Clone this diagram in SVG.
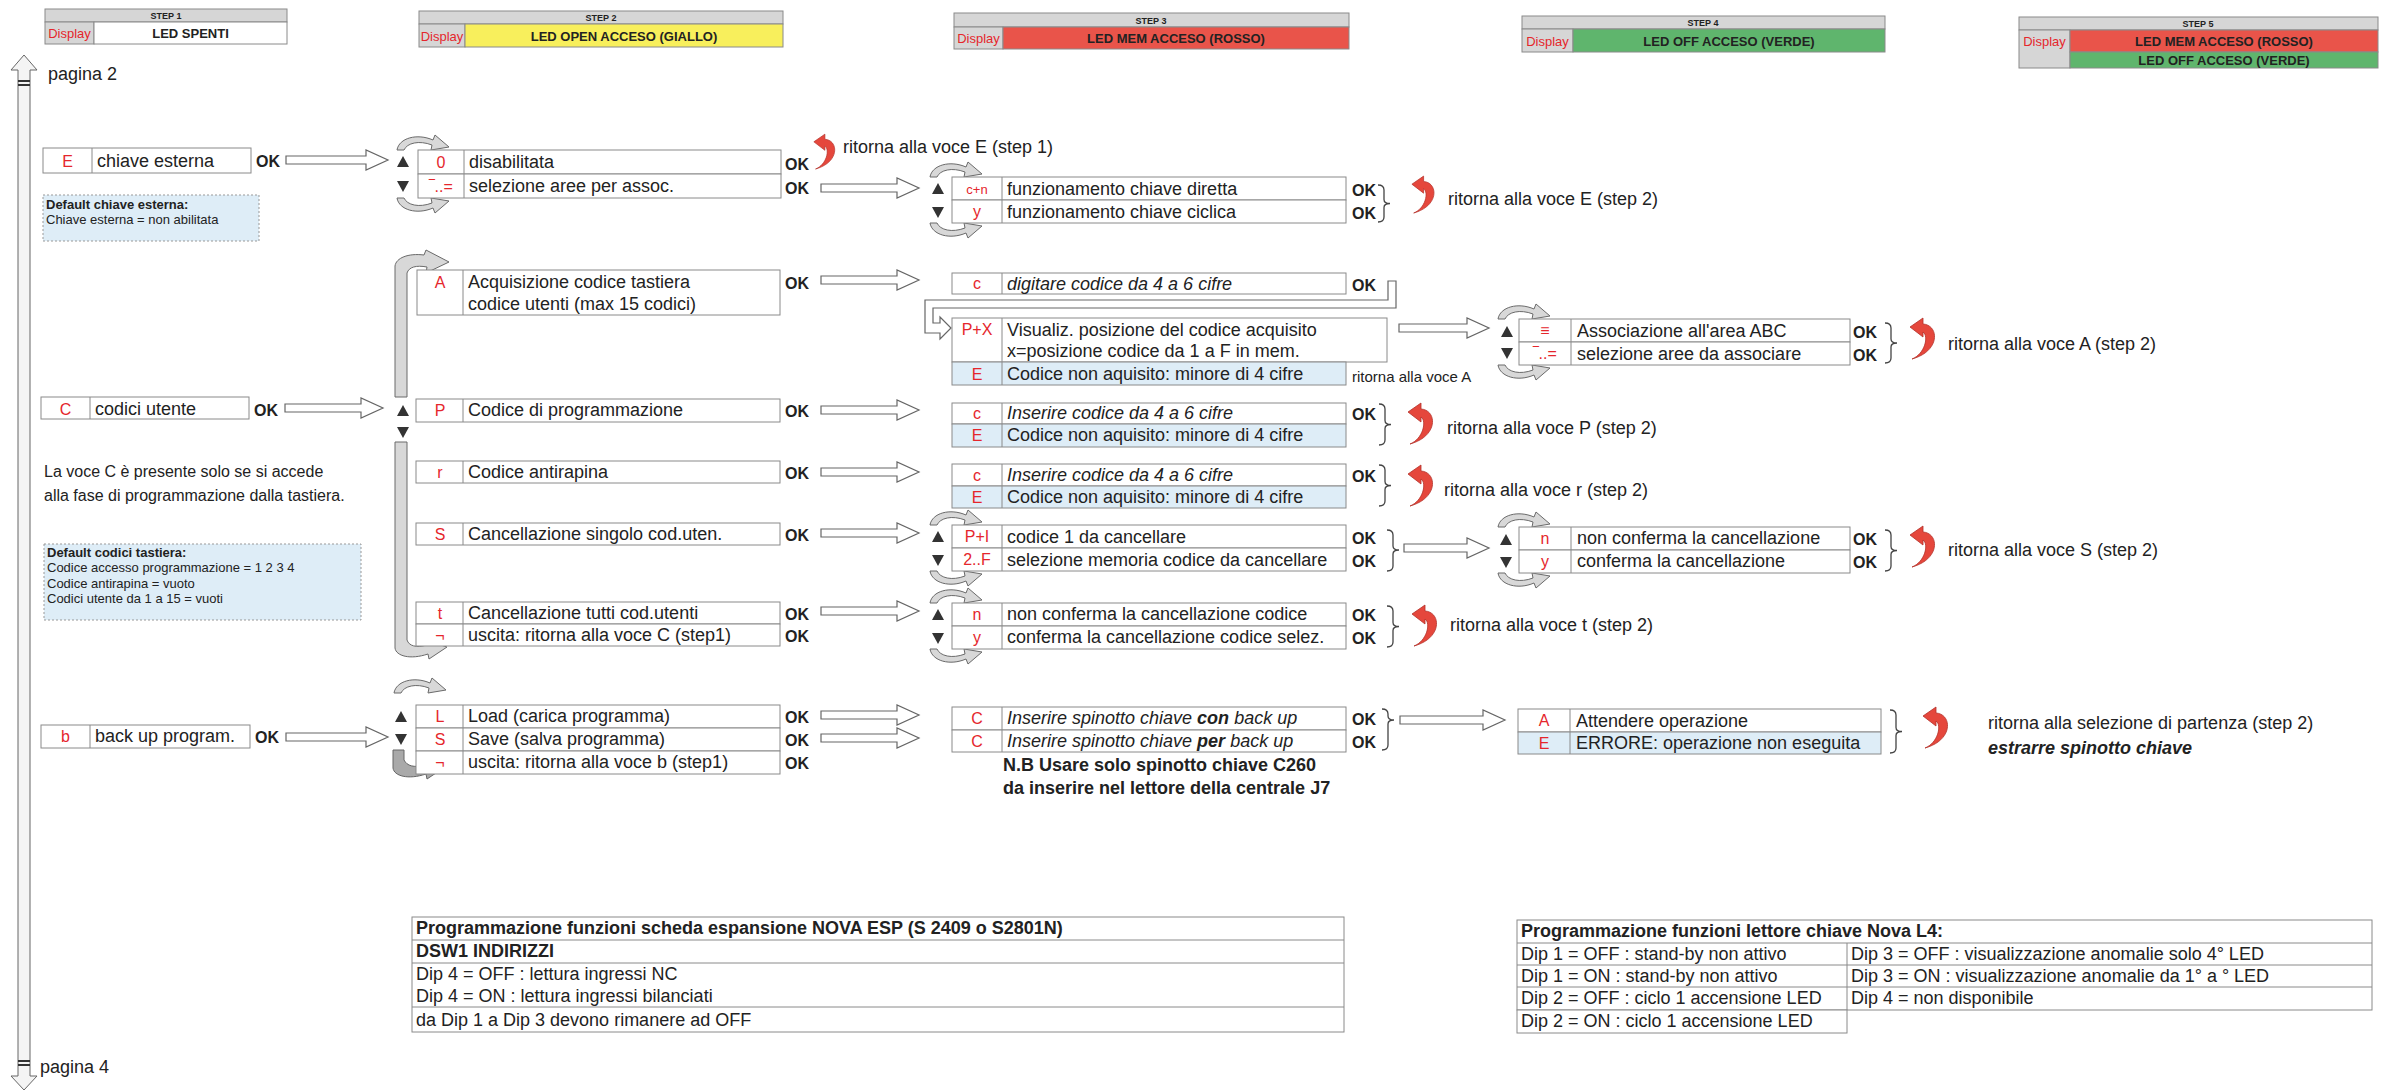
<svg xmlns="http://www.w3.org/2000/svg" xmlns:xlink="http://www.w3.org/1999/xlink" width="2383" height="1091" viewBox="0 0 2383 1091">
<style>
text{font-family:'Liberation Sans',Arial,sans-serif;fill:#222}
.t{font-size:18px}
.ti{font-size:18px;font-style:italic}
.ok{font-size:16px;font-weight:bold}
.cd{font-size:16px;fill:#e5262c;text-anchor:middle}
.sm{font-size:13px}
.smb{font-size:13px;font-weight:bold}
.hs{font-size:9px;font-weight:bold;text-anchor:middle}
.hd{font-size:13px;fill:#e5262c;text-anchor:middle}
.hl{font-size:13px;font-weight:bold;text-anchor:middle}
.box{fill:#fff;stroke:#8a8a8a;stroke-width:1}
.blue{fill:#deedf7;stroke:#8a8a8a;stroke-width:1}
.dv{stroke:#8a8a8a;stroke-width:1}
.hg{fill:#d6d6d6;stroke:#8a8a8a;stroke-width:1}
.arr{fill:#fff;stroke:#666;stroke-width:1.2}
.arc{fill:#d8d8d8;stroke:#6a6a6a;stroke-width:1}
.br{fill:none;stroke:#444;stroke-width:1.3}
.red{fill:#e5473c;stroke:#b3312a;stroke-width:.8}
.tri{fill:#333}
.note{fill:#deedf7;stroke:#999;stroke-width:1;stroke-dasharray:2 2}
</style>
<defs>
<path id="arcTop" class="arc" d="M0 15 C2 3 20 -2 36 5 L38 0 L52 12 L34 15 L35 10 C22 5 10 8 7 15 Z"/>
<path id="up" class="tri" d="M-6 5 L0 -6 L6 5 Z"/>
<path id="dn" class="tri" d="M-6 -5 L0 6 L6 -5 Z"/>
<path id="ra" class="red" d="M3 40 C16 35 20 17 14 13 L14 18 L1 8 L14 -1 L14 5 C30 6 32 32 3 40 Z"/>
</defs>

<g id="headers">
<g id="step1">
<rect class="hg" x="45" y="9" width="242" height="13"/>
<rect class="hg" x="45" y="22" width="49" height="22"/>
<rect class="box" x="94" y="22" width="193" height="22"/>
<text class="hs" x="166" y="19">STEP 1</text>
<text class="hd" x="69.5" y="38">Display</text>
<text class="hl" x="190.5" y="38">LED SPENTI</text>
</g>
<g id="step2">
<rect class="hg" x="419" y="11" width="364" height="13"/>
<rect class="hg" x="419" y="24" width="46" height="23"/>
<rect x="465" y="24" width="318" height="23" fill="#f8ef5c" stroke="#8a8a8a"/>
<text class="hs" x="601" y="21">STEP 2</text>
<text class="hd" x="442" y="41">Display</text>
<text class="hl" x="624" y="41">LED OPEN ACCESO (GIALLO)</text>
</g>
<g id="step3">
<rect class="hg" x="954" y="13" width="395" height="14"/>
<rect class="hg" x="954" y="27" width="49" height="22"/>
<rect x="1003" y="27" width="346" height="22" fill="#e9544a" stroke="#8a8a8a"/>
<text class="hs" x="1151" y="24">STEP 3</text>
<text class="hd" x="978.5" y="43">Display</text>
<text class="hl" x="1176" y="43">LED MEM ACCESO (ROSSO)</text>
</g>
<g id="step4">
<rect class="hg" x="1522" y="16" width="363" height="13"/>
<rect class="hg" x="1522" y="29" width="51" height="23"/>
<rect x="1573" y="29" width="312" height="23" fill="#5fb56d" stroke="#8a8a8a"/>
<text class="hs" x="1703" y="26">STEP 4</text>
<text class="hd" x="1547.5" y="46">Display</text>
<text class="hl" x="1729" y="46">LED OFF ACCESO (VERDE)</text>
</g>
<g id="step5">
<rect class="hg" x="2019" y="17" width="359" height="13"/>
<rect class="hg" x="2019" y="30" width="51" height="38"/>
<rect x="2070" y="30" width="308" height="22" fill="#e9544a" stroke="#8a8a8a"/>
<rect x="2070" y="52" width="308" height="16" fill="#5fb56d" stroke="#8a8a8a"/>
<text class="hs" x="2198" y="27">STEP 5</text>
<text class="hd" x="2044.5" y="46">Display</text>
<text class="hl" x="2224" y="46">LED MEM ACCESO (ROSSO)</text>
<text class="hl" x="2224" y="65">LED OFF ACCESO (VERDE)</text>
</g>
</g>

<g id="pagebar">
<path d="M18 70 L11 70 L24 55 L37 70 L30 70 L30 1076 L37 1076 L24 1090 L11 1076 L18 1076 Z" fill="#f4f4f4" stroke="#666" stroke-width="1"/>
<rect x="18" y="80" width="12" height="2" fill="#333"/>
<rect x="18" y="84" width="12" height="2" fill="#333"/>
<rect x="18" y="1060" width="12" height="2" fill="#333"/>
<rect x="18" y="1064" width="12" height="2" fill="#333"/>
<text class="t" x="48" y="80">pagina 2</text>
<text class="t" x="40" y="1073">pagina 4</text>
</g>

<g id="connectors">
<polygon class="arr" points="286,156 366,156 366,150 388,160 366,170 366,164 286,164"/>
<polygon class="arr" points="285,404 361,404 361,398 383,408 361,418 361,412 285,412"/>
<polygon class="arr" points="286,733 366,733 366,727 388,737 366,747 366,741 286,741"/>
<polygon class="arr" points="821,184 897,184 897,178 919,188 897,198 897,192 821,192"/>
<polygon class="arr" points="821,276 897,276 897,270 919,280 897,290 897,284 821,284"/>
<polygon class="arr" points="821,406 897,406 897,400 919,410 897,420 897,414 821,414"/>
<polygon class="arr" points="821,468 897,468 897,462 919,472 897,482 897,476 821,476"/>
<polygon class="arr" points="821,529 897,529 897,523 919,533 897,543 897,537 821,537"/>
<polygon class="arr" points="821,607 897,607 897,601 919,611 897,621 897,615 821,615"/>
<polygon class="arr" points="821,711 897,711 897,705 919,715 897,725 897,719 821,719"/>
<polygon class="arr" points="821,734 897,734 897,728 919,738 897,748 897,742 821,742"/>
<polygon class="arr" points="1399,324 1467,324 1467,318 1489,328 1467,338 1467,332 1399,332"/>
<polygon class="arr" points="1404,544 1467,544 1467,538 1489,548 1467,558 1467,552 1404,552"/>
<polygon class="arr" points="1400,716 1483,716 1483,710 1505,720 1483,730 1483,724 1400,724"/>
<polygon class="arr" points="1388,281 1396,281 1396,308 933,308 933,323 940,323 940,317 951,328 940,339 940,333 925,333 925,300 1388,300"/>
<path class="arc" d="M395 397 L395 266 C396 258 408 253 424 255 L426 250 L449 262 L426 273 L427 267 C416 265 409 267 407 273 L407 397 Z"/>
<path class="arc" d="M395 442 L395 648 C396 656 410 660 428 654 L429 659 L447 647 L425 640 L427 645 C416 648 409 646 407 640 L407 442 Z"/>
<path d="M393 750 L393 768 C394 776 408 780 426 774 L427 779 L445 767 L423 760 L425 765 C414 768 407 766 404 760 L404 750 Z" fill="#a9a9a9" stroke="#666" stroke-width="1"/>
<use xlink:href="#arcTop" transform="translate(397,135)"/>
<use xlink:href="#arcTop" transform="translate(397,213) scale(1,-1)"/>
<use xlink:href="#arcTop" transform="translate(394,678)"/>
<use xlink:href="#arcTop" transform="translate(930,162)"/>
<use xlink:href="#arcTop" transform="translate(930,238) scale(1,-1)"/>
<use xlink:href="#arcTop" transform="translate(930,510)"/>
<use xlink:href="#arcTop" transform="translate(930,586) scale(1,-1)"/>
<use xlink:href="#arcTop" transform="translate(930,588)"/>
<use xlink:href="#arcTop" transform="translate(930,664) scale(1,-1)"/>
<use xlink:href="#arcTop" transform="translate(1498,304)"/>
<use xlink:href="#arcTop" transform="translate(1498,380) scale(1,-1)"/>
<use xlink:href="#arcTop" transform="translate(1498,512)"/>
<use xlink:href="#arcTop" transform="translate(1498,588) scale(1,-1)"/>
<path class="br" d="M1378 185 Q1384 185 1384 190 L1384 199.5 Q1384 203.5 1390 203.5 Q1384 203.5 1384 207.5 L1384 217 Q1384 222 1378 222"/>
<path class="br" d="M1379 404 Q1385 404 1385 409 L1385 420.5 Q1385 424.5 1391 424.5 Q1385 424.5 1385 428.5 L1385 440 Q1385 445 1379 445"/>
<path class="br" d="M1379 465 Q1385 465 1385 470 L1385 481.5 Q1385 485.5 1391 485.5 Q1385 485.5 1385 489.5 L1385 501 Q1385 506 1379 506"/>
<path class="br" d="M1387 530 Q1393 530 1393 535 L1393 546 Q1393 550 1399 550 Q1393 550 1393 554 L1393 566 Q1393 571 1387 571"/>
<path class="br" d="M1387 606 Q1393 606 1393 611 L1393 622.5 Q1393 626.5 1399 626.5 Q1393 626.5 1393 630.5 L1393 642 Q1393 647 1387 647"/>
<path class="br" d="M1382 709 Q1388 709 1388 714 L1388 716 Q1388 720 1394 720 Q1388 720 1388 724 L1388 745 Q1388 750 1382 750"/>
<path class="br" d="M1885 323 Q1891 323 1891 328 L1891 339 Q1891 343 1897 343 Q1891 343 1891 347 L1891 358 Q1891 363 1885 363"/>
<path class="br" d="M1885 530 Q1891 530 1891 535 L1891 546.5 Q1891 550.5 1897 550.5 Q1891 550.5 1891 554.5 L1891 566 Q1891 571 1885 571"/>
<path class="br" d="M1890 710 Q1896 710 1896 715 L1896 727.5 Q1896 731.5 1902 731.5 Q1896 731.5 1896 735.5 L1896 748 Q1896 753 1890 753"/>
<use xlink:href="#ra" transform="translate(813,135) scale(0.85)"/>
<use xlink:href="#ra" transform="translate(1411,177) scale(0.9)"/>
<use xlink:href="#ra" transform="translate(1407,404)"/>
<use xlink:href="#ra" transform="translate(1407,466)"/>
<use xlink:href="#ra" transform="translate(1411,606)"/>
<use xlink:href="#ra" transform="translate(1909,319)"/>
<use xlink:href="#ra" transform="translate(1909,527)"/>
<use xlink:href="#ra" transform="translate(1922,708)"/>
</g>

<g id="n-E">
<rect class="box" x="43" y="148" width="208" height="25"/>
<line class="dv" x1="92" y1="148" x2="92" y2="173"/>
<text class="cd" x="67.5" y="167">E</text>
<text class="t" x="97" y="167">chiave esterna</text>
<text class="ok" x="256" y="167">OK</text>
</g>
<g id="n-default-chiave">
<rect class="note" x="43" y="195" width="216" height="46"/>
<text class="smb" x="46" y="209">Default chiave esterna:</text>
<text class="sm" x="46" y="224">Chiave esterna = non abilitata</text>
</g>
<g id="n-C">
<rect class="box" x="41" y="397" width="208" height="22"/>
<line class="dv" x1="90" y1="397" x2="90" y2="419"/>
<text class="cd" x="65.5" y="415">C</text>
<text class="t" x="95" y="415">codici utente</text>
<text class="ok" x="254" y="416">OK</text>
</g>
<g id="n-note-C">
<text x="44" y="477" style="font-size:16px">La voce C è presente solo se si accede</text>
<text x="44" y="501" style="font-size:16px">alla fase di programmazione dalla tastiera.</text>
</g>
<g id="n-default-codici">
<rect class="note" x="44" y="544" width="317" height="76"/>
<text class="smb" x="47" y="557">Default codici tastiera:</text>
<text class="sm" x="47" y="572">Codice accesso programmazione = 1 2 3 4</text>
<text class="sm" x="47" y="588">Codice antirapina = vuoto</text>
<text class="sm" x="47" y="603">Codici utente da 1 a 15 = vuoti</text>
</g>
<g id="n-b">
<rect class="box" x="41" y="725" width="209" height="23"/>
<line class="dv" x1="90" y1="725" x2="90" y2="748"/>
<text class="cd" x="65.5" y="742">b</text>
<text class="t" x="95" y="742">back up program.</text>
<text class="ok" x="255" y="743">OK</text>
</g>

<g id="n-s2-E">
<use xlink:href="#up" x="403" y="162"/>
<use xlink:href="#dn" x="403" y="186"/>
<rect class="box" x="418" y="150" width="363" height="24"/>
<rect class="box" x="418" y="174" width="363" height="24"/>
<line class="dv" x1="464" y1="150" x2="464" y2="198"/>
<text class="cd" x="441" y="168">0</text>
<text class="cd" x="441" y="192">‾..=</text>
<text class="t" x="469" y="168">disabilitata</text>
<text class="t" x="469" y="192">selezione aree per assoc.</text>
<text class="ok" x="785" y="170">OK</text>
<text class="ok" x="785" y="194">OK</text>
<text class="t" x="843" y="153">ritorna alla voce E (step 1)</text>
</g>
<g id="n-s2-A">
<rect class="box" x="417" y="270" width="363" height="45"/>
<line class="dv" x1="463" y1="270" x2="463" y2="315"/>
<text class="cd" x="440" y="288">A</text>
<text class="t" x="468" y="288">Acquisizione codice tastiera</text>
<text class="t" x="468" y="310">codice utenti (max 15 codici)</text>
<text class="ok" x="785" y="289">OK</text>
</g>
<g id="n-s2-P">
<use xlink:href="#up" x="403" y="411"/>
<use xlink:href="#dn" x="403" y="432"/>
<rect class="box" x="416" y="399" width="364" height="23"/>
<line class="dv" x1="463" y1="399" x2="463" y2="422"/>
<text class="cd" x="440" y="416">P</text>
<text class="t" x="468" y="416">Codice di programmazione</text>
<text class="ok" x="785" y="417">OK</text>
</g>
<g id="n-s2-r">
<rect class="box" x="416" y="461" width="364" height="22"/>
<line class="dv" x1="463" y1="461" x2="463" y2="483"/>
<text class="cd" x="440" y="478">r</text>
<text class="t" x="468" y="478">Codice antirapina</text>
<text class="ok" x="785" y="479">OK</text>
</g>
<g id="n-s2-S">
<rect class="box" x="416" y="523" width="364" height="22"/>
<line class="dv" x1="463" y1="523" x2="463" y2="545"/>
<text class="cd" x="440" y="540">S</text>
<text class="t" x="468" y="540">Cancellazione singolo cod.uten.</text>
<text class="ok" x="785" y="541">OK</text>
</g>
<g id="n-s2-t">
<rect class="box" x="416" y="602" width="364" height="22"/>
<rect class="box" x="416" y="624" width="364" height="22"/>
<line class="dv" x1="463" y1="602" x2="463" y2="646"/>
<text class="cd" x="440" y="619">t</text>
<text class="cd" x="440" y="641">¬</text>
<text class="t" x="468" y="619">Cancellazione tutti cod.utenti</text>
<text class="t" x="468" y="641">uscita: ritorna alla voce C (step1)</text>
<text class="ok" x="785" y="620">OK</text>
<text class="ok" x="785" y="642">OK</text>
</g>
<g id="n-s2-L">
<use xlink:href="#up" x="401" y="717"/>
<use xlink:href="#dn" x="401" y="739"/>
<rect class="box" x="416" y="705" width="364" height="23"/>
<rect class="box" x="416" y="728" width="364" height="23"/>
<rect class="box" x="416" y="751" width="364" height="23"/>
<line class="dv" x1="463" y1="705" x2="463" y2="774"/>
<text class="cd" x="440" y="722">L</text>
<text class="cd" x="440" y="745">S</text>
<text class="cd" x="440" y="768">¬</text>
<text class="t" x="468" y="722">Load (carica programma)</text>
<text class="t" x="468" y="745">Save (salva programma)</text>
<text class="t" x="468" y="768">uscita: ritorna alla voce b (step1)</text>
<text class="ok" x="785" y="723">OK</text>
<text class="ok" x="785" y="746">OK</text>
<text class="ok" x="785" y="769">OK</text>
</g>

<g id="n-s3-cn">
<use xlink:href="#up" x="938" y="189"/>
<use xlink:href="#dn" x="938" y="212"/>
<rect class="box" x="952" y="177" width="394" height="23"/>
<rect class="box" x="952" y="200" width="394" height="23"/>
<line class="dv" x1="1002" y1="177" x2="1002" y2="223"/>
<text class="cd" x="977" y="194" style="font-size:13px">c+n</text>
<text class="cd" x="977" y="217">y</text>
<text class="t" x="1007" y="195">funzionamento chiave diretta</text>
<text class="t" x="1007" y="218">funzionamento chiave ciclica</text>
<text class="ok" x="1352" y="196">OK</text>
<text class="ok" x="1352" y="219">OK</text>
<text class="t" x="1448" y="205">ritorna alla voce E (step 2)</text>
</g>
<g id="n-s3-c">
<rect class="box" x="952" y="273" width="394" height="21"/>
<line class="dv" x1="1002" y1="273" x2="1002" y2="294"/>
<text class="cd" x="977" y="289">c</text>
<text class="ti" x="1007" y="290">digitare codice da 4 a 6 cifre</text>
<text class="ok" x="1352" y="291">OK</text>
</g>
<g id="n-s3-PX">
<rect class="box" x="952" y="318" width="435" height="44"/>
<rect class="blue" x="952" y="362" width="394" height="23"/>
<line class="dv" x1="1002" y1="318" x2="1002" y2="385"/>
<text class="cd" x="977" y="335">P+X</text>
<text class="cd" x="977" y="380">E</text>
<text class="t" x="1007" y="336">Visualiz. posizione del codice acquisito</text>
<text class="t" x="1007" y="357">x=posizione codice da 1 a F in mem.</text>
<text class="t" x="1007" y="380">Codice non aquisito: minore di 4 cifre</text>
<text x="1352" y="382" style="font-size:15px">ritorna alla voce A</text>
</g>
<g id="n-s3-P">
<rect class="box" x="952" y="403" width="394" height="21"/>
<rect class="blue" x="952" y="424" width="394" height="23"/>
<line class="dv" x1="1002" y1="403" x2="1002" y2="447"/>
<text class="cd" x="977" y="419">c</text>
<text class="cd" x="977" y="441">E</text>
<text class="ti" x="1007" y="419">Inserire codice da 4 a 6 cifre</text>
<text class="t" x="1007" y="441">Codice non aquisito: minore di 4 cifre</text>
<text class="ok" x="1352" y="420">OK</text>
<text class="t" x="1447" y="434">ritorna alla voce P (step 2)</text>
</g>
<g id="n-s3-r">
<rect class="box" x="952" y="464" width="394" height="22"/>
<rect class="blue" x="952" y="486" width="394" height="22"/>
<line class="dv" x1="1002" y1="464" x2="1002" y2="508"/>
<text class="cd" x="977" y="481">c</text>
<text class="cd" x="977" y="503">E</text>
<text class="ti" x="1007" y="481">Inserire codice da 4 a 6 cifre</text>
<text class="t" x="1007" y="503">Codice non aquisito: minore di 4 cifre</text>
<text class="ok" x="1352" y="482">OK</text>
<text class="t" x="1444" y="496">ritorna alla voce r (step 2)</text>
</g>
<g id="n-s3-S">
<use xlink:href="#up" x="938" y="537"/>
<use xlink:href="#dn" x="938" y="560"/>
<rect class="box" x="952" y="525" width="394" height="23"/>
<rect class="box" x="952" y="548" width="394" height="23"/>
<line class="dv" x1="1002" y1="525" x2="1002" y2="571"/>
<text class="cd" x="977" y="542">P+I</text>
<text class="cd" x="977" y="565">2..F</text>
<text class="t" x="1007" y="543">codice 1 da cancellare</text>
<text class="t" x="1007" y="566">selezione memoria codice da cancellare</text>
<text class="ok" x="1352" y="544">OK</text>
<text class="ok" x="1352" y="567">OK</text>
</g>
<g id="n-s3-t">
<use xlink:href="#up" x="938" y="615"/>
<use xlink:href="#dn" x="938" y="638"/>
<rect class="box" x="952" y="603" width="394" height="23"/>
<rect class="box" x="952" y="626" width="394" height="23"/>
<line class="dv" x1="1002" y1="603" x2="1002" y2="649"/>
<text class="cd" x="977" y="620">n</text>
<text class="cd" x="977" y="643">y</text>
<text class="t" x="1007" y="620">non conferma la cancellazione codice</text>
<text class="t" x="1007" y="643">conferma la cancellazione codice selez.</text>
<text class="ok" x="1352" y="621">OK</text>
<text class="ok" x="1352" y="644">OK</text>
<text class="t" x="1450" y="631">ritorna alla voce t (step 2)</text>
</g>
<g id="n-s3-backup">
<rect class="box" x="952" y="707" width="394" height="23"/>
<rect class="box" x="952" y="730" width="394" height="22"/>
<line class="dv" x1="1002" y1="707" x2="1002" y2="752"/>
<text class="cd" x="977" y="724">C</text>
<text class="cd" x="977" y="747">C</text>
<text class="ti" x="1007" y="724">Inserire spinotto chiave  <tspan font-weight="bold">con</tspan>  back up</text>
<text class="ti" x="1007" y="747">Inserire spinotto chiave  <tspan font-weight="bold">per</tspan>  back up</text>
<text class="ok" x="1352" y="725">OK</text>
<text class="ok" x="1352" y="748">OK</text>
<text class="t" x="1003" y="771" font-weight="bold">N.B Usare solo spinotto chiave C260</text>
<text class="t" x="1003" y="794" font-weight="bold">da inserire nel lettore della centrale J7</text>
</g>

<g id="n-s4-assoc">
<use xlink:href="#up" x="1507" y="332"/>
<use xlink:href="#dn" x="1507" y="353"/>
<rect class="box" x="1519" y="319" width="331" height="23"/>
<rect class="box" x="1519" y="342" width="331" height="23"/>
<line class="dv" x1="1571" y1="319" x2="1571" y2="365"/>
<text class="cd" x="1545" y="336">≡</text>
<text class="cd" x="1545" y="359">‾..=</text>
<text class="t" x="1577" y="337">Associazione all'area ABC</text>
<text class="t" x="1577" y="360">selezione  aree da associare</text>
<text class="ok" x="1853" y="338">OK</text>
<text class="ok" x="1853" y="361">OK</text>
<text class="t" x="1948" y="350">ritorna alla voce A (step 2)</text>
</g>
<g id="n-s4-ny">
<use xlink:href="#up" x="1506" y="540"/>
<use xlink:href="#dn" x="1506" y="562"/>
<rect class="box" x="1519" y="527" width="331" height="23"/>
<rect class="box" x="1519" y="550" width="331" height="23"/>
<line class="dv" x1="1571" y1="527" x2="1571" y2="573"/>
<text class="cd" x="1545" y="544">n</text>
<text class="cd" x="1545" y="567">y</text>
<text class="t" x="1577" y="544">non conferma la cancellazione</text>
<text class="t" x="1577" y="567">conferma la cancellazione</text>
<text class="ok" x="1853" y="545">OK</text>
<text class="ok" x="1853" y="568">OK</text>
<text class="t" x="1948" y="556">ritorna alla voce S (step 2)</text>
</g>
<g id="n-s4-attendere">
<rect class="box" x="1518" y="709" width="363" height="23"/>
<rect class="blue" x="1518" y="732" width="363" height="22"/>
<line class="dv" x1="1570" y1="709" x2="1570" y2="754"/>
<text class="cd" x="1544" y="726">A</text>
<text class="cd" x="1544" y="749">E</text>
<text class="t" x="1576" y="727">Attendere operazione</text>
<text class="t" x="1576" y="749">ERRORE: operazione non eseguita</text>
<text class="t" x="1988" y="729">ritorna alla selezione di partenza (step 2)</text>
<text class="t" x="1988" y="754" font-weight="bold" font-style="italic">estrarre spinotto chiave</text>
</g>

<g id="n-table-esp">
<rect class="box" x="412" y="917" width="932" height="115"/>
<line class="dv" x1="412" y1="940" x2="1344" y2="940"/>
<line class="dv" x1="412" y1="963" x2="1344" y2="963"/>
<line class="dv" x1="412" y1="1007" x2="1344" y2="1007"/>
<text class="t" x="416" y="934" font-weight="bold">Programmazione funzioni scheda espansione NOVA ESP (S 2409 o S2801N)</text>
<text class="t" x="416" y="957" font-weight="bold">DSW1 INDIRIZZI</text>
<text class="t" x="416" y="980">Dip 4 = OFF : lettura ingressi NC</text>
<text class="t" x="416" y="1002">Dip 4 = ON : lettura ingressi bilanciati</text>
<text class="t" x="416" y="1026">da Dip 1 a Dip 3 devono rimanere ad OFF</text>
</g>
<g id="n-table-l4">
<rect class="box" x="1517" y="920" width="855" height="90"/>
<rect class="box" x="1517" y="1010" width="330" height="23"/>
<line class="dv" x1="1517" y1="943" x2="2372" y2="943"/>
<line class="dv" x1="1517" y1="965" x2="2372" y2="965"/>
<line class="dv" x1="1517" y1="987" x2="2372" y2="987"/>
<line class="dv" x1="1847" y1="943" x2="1847" y2="1010"/>
<text class="t" x="1521" y="937" font-weight="bold">Programmazione funzioni lettore chiave Nova L4:</text>
<text class="t" x="1521" y="960">Dip 1 = OFF : stand-by non attivo</text>
<text class="t" x="1521" y="982">Dip 1 = ON : stand-by non attivo</text>
<text class="t" x="1521" y="1004">Dip 2 = OFF : ciclo 1 accensione LED</text>
<text class="t" x="1521" y="1027">Dip 2 = ON : ciclo 1 accensione LED</text>
<text class="t" x="1851" y="960">Dip 3 = OFF : visualizzazione anomalie solo 4° LED</text>
<text class="t" x="1851" y="982">Dip 3 = ON : visualizzazione anomalie da 1° a ° LED</text>
<text class="t" x="1851" y="1004">Dip 4 = non disponibile</text>
</g>
</svg>
